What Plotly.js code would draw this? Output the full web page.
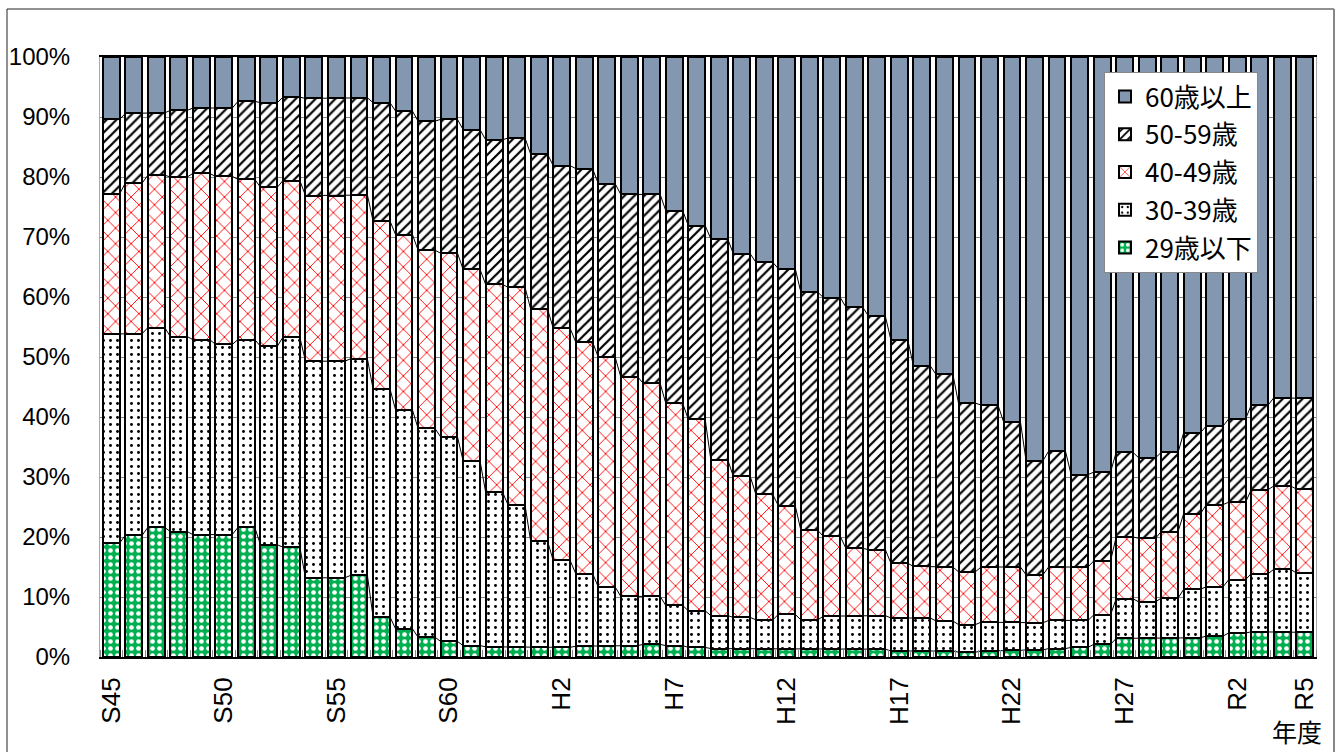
<!DOCTYPE html>
<html><head><meta charset="utf-8">
<script src="https://cdn.plot.ly/plotly-3.0.1.min.js"></script>
<style>html,body{margin:0;padding:0;background:#fff}#chart{width:1342px;height:752px}</style>
</head><body><div id="chart"></div><script>
const years = ['S45','S46','S47','S48','S49','S50','S51','S52','S53','S54','S55','S56','S57','S58','S59','S60','S61','S62','S63',
  'H1','H2','H3','H4','H5','H6','H7','H8','H9','H10','H11','H12','H13','H14','H15','H16','H17','H18','H19','H20','H21','H22','H23','H24','H25','H26','H27','H28','H29','H30',
  'R1','R2','R3','R4','R5'];
const tickLabels = ['S45','S50','S55','S60','H2','H7','H12','H17','H22','H27','R2','R5'];
const seriesNames = ['29歳以下','30-39歳','40-49歳','50-59歳','60歳以上'];
const age29 = [19.0,20.3,21.6,20.9,20.4,20.4,21.6,18.7,18.3,13.2,13.2,13.6,6.7,4.7,3.3,2.6,1.9,1.7,1.6,1.6,1.6,1.8,1.8,1.9,2.1,1.9,1.6,1.4,1.4,1.4,1.4,1.3,1.4,1.4,1.3,1.0,1.0,1.0,0.8,1.0,1.1,1.2,1.4,1.6,2.1,3.1,3.2,3.2,3.2,3.5,4.0,4.2,4.2,4.1];
const age30 = [34.8,33.6,33.3,32.5,32.5,31.7,31.3,33.1,35.0,36.1,36.1,36.1,38.0,36.5,34.8,34.1,30.8,25.8,23.7,17.7,14.5,12.1,9.9,8.2,8.0,6.7,6.1,5.5,5.2,4.8,5.7,4.9,5.4,5.4,5.6,5.5,5.5,5.0,4.6,4.8,4.7,4.5,4.7,4.5,4.9,6.6,6.0,6.6,8.1,8.2,8.9,9.7,10.4,9.9];
const age40 = [23.4,25.1,25.4,26.6,27.7,28.0,26.7,26.5,26.1,27.6,27.6,27.3,28.0,29.2,29.7,30.6,31.9,34.6,36.3,38.7,38.7,38.6,38.3,36.6,35.5,33.7,31.9,26.0,23.5,20.9,18.1,14.9,13.3,11.3,11.0,9.1,8.6,9.0,8.8,9.2,9.2,8.0,8.9,8.9,9.0,10.3,10.6,11.1,12.6,13.7,12.9,14.0,13.9,14.0];
const age50 = [12.4,11.6,10.4,11.1,10.9,11.4,13.0,14.1,13.9,16.2,16.2,16.2,19.7,20.6,21.5,22.3,23.3,24.1,24.9,25.8,27.1,28.9,28.9,30.4,31.5,32.1,32.3,36.8,37.1,38.7,39.5,39.7,39.8,40.2,38.9,37.2,33.4,32.1,28.1,27.0,24.2,19.0,19.3,15.4,14.8,14.1,13.4,13.2,13.5,13.1,13.9,14.1,14.7,15.1];
const age60 = [10.4,9.4,9.3,8.9,8.5,8.5,7.4,7.6,6.7,6.9,6.9,6.8,7.6,9.0,10.7,10.4,12.1,13.8,13.5,16.2,18.1,18.6,21.1,22.9,22.9,25.6,28.1,30.3,32.8,34.2,35.3,39.2,40.1,41.7,43.2,47.2,51.5,52.9,57.7,58.0,60.8,67.3,65.7,69.6,69.2,65.9,66.8,65.9,62.6,61.5,60.3,58.0,56.8,56.9];

const xs = years.map((_, i) => i);
const seriesData = [age29, age30, age40, age50, age60];
const patterns = [
  {shape: '.', fgcolor: '#ffffff', bgcolor: '#00b050', size: 7, solidity: 0.35, fillmode: 'replace'},
  {shape: '.', fgcolor: '#000000', bgcolor: '#ffffff', size: 7, solidity: 0.14, fillmode: 'replace'},
  {shape: 'x', fgcolor: '#ff0000', bgcolor: '#ffffff', size: 11, solidity: 0.16, fillmode: 'replace'},
  {shape: '/', fgcolor: '#000000', bgcolor: '#ffffff', size: 7, solidity: 0.32, fillmode: 'replace'},
  {shape: '', fgcolor: '#8497b0', bgcolor: '#8497b0', size: 8, solidity: 0.3, fillmode: 'replace'}
];
const colors = ['#00b050', '#ffffff', '#ffffff', '#ffffff', '#8497b0'];
const bargap = 0.25;
const half = (1 - bargap) / 2;

const traces = seriesData.map((vals, k) => ({
  type: 'bar', x: xs, y: vals, name: seriesNames[k], legendgroup: 'g' + k, legendrank: 5 - k,
  marker: {color: colors[k], pattern: patterns[k], line: {color: '#000', width: 2}},
  hoverinfo: 'name+y'
}));

// series lines connecting cumulative tops
const cum = years.map(() => 0);
for (let k = 0; k < 4; k++) {
  const lx = [], ly = [];
  seriesData[k].forEach((v, i) => { cum[i] += v; });
  xs.forEach((x, i) => { lx.push(x - half, x + half); ly.push(cum[i], cum[i]); });
  traces.push({type: 'scatter', mode: 'lines', x: lx, y: ly, showlegend: false, hoverinfo: 'skip',
    line: {color: '#000', width: 1}});
}

const tickvals = tickLabels.map(t => years.indexOf(t));
const L = 100, R = 26, T = 57, B = 95, W = 1342, H = 752;
const pw = W - L - R, ph = H - T - B;
const px = v => (v - L) / pw, py = v => (H - B - v) / ph;

const layout = {
  width: W, height: H,
  margin: {l: L, r: R, t: T, b: B},
  barmode: 'stack', bargap: bargap,
  paper_bgcolor: '#fff', plot_bgcolor: '#fff',
  showlegend: true,
  legend: {x: px(1104), y: py(72), xanchor: 'left', yanchor: 'top', bgcolor: '#fff', bordercolor: '#888', borderwidth: 1,
    traceorder: 'grouped', tracegroupgap: 1,
    font: {family: 'Noto Sans CJK JP, sans-serif', size: 26, color: '#000'}},
  xaxis: {range: [-0.5, years.length - 0.5], tickmode: 'array', tickvals: tickvals, ticktext: tickLabels, tickangle: -90,
    ticks: '', ticklabelstandoff: 8, showgrid: false, zeroline: false,
    showline: true, mirror: true, linecolor: '#000', linewidth: 2,
    minor: {ticks: 'inside', tick0: 0.5, dtick: 1, ticklen: 7, tickcolor: '#888', tickwidth: 1, showgrid: false},
    tickfont: {family: 'Liberation Sans, Arial, sans-serif', size: 26, color: '#000'}},
  yaxis: {range: [0, 100], tickvals: [0,10,20,30,40,50,60,70,80,90,100], ticktext: ['0%','10%','20%','30%','40%','50%','60%','70%','80%','90%','100%'],
    showgrid: true, gridcolor: '#888', gridwidth: 1, zeroline: false, ticks: '', ticklabelstandoff: 24,
    showline: true, mirror: true, linecolor: '#aaa', linewidth: 1,
    tickfont: {family: 'Liberation Sans, Arial, sans-serif', size: 24, color: '#000'}},
  annotations: [{text: '年度', xref: 'paper', yref: 'paper', x: px(1297), y: py(731), xanchor: 'center', yanchor: 'middle', showarrow: false,
    font: {family: 'Noto Sans CJK JP, sans-serif', size: 25, color: '#000'}}],
  shapes: [
    {type: 'line', xref: 'paper', yref: 'paper', x0: px(7), x1: px(7), y0: py(9), y1: py(760), line: {color: '#222', width: 1}},
    {type: 'line', xref: 'paper', yref: 'paper', x0: px(7), x1: px(1334), y0: py(9), y1: py(9), line: {color: '#222', width: 1}},
    {type: 'line', xref: 'paper', yref: 'paper', x0: px(1334), x1: px(1334), y0: py(9), y1: py(760), line: {color: '#888', width: 2}}
  ]
};
Plotly.newPlot('chart', traces, layout, {displayModeBar: false, staticPlot: true});
</script></body></html>
